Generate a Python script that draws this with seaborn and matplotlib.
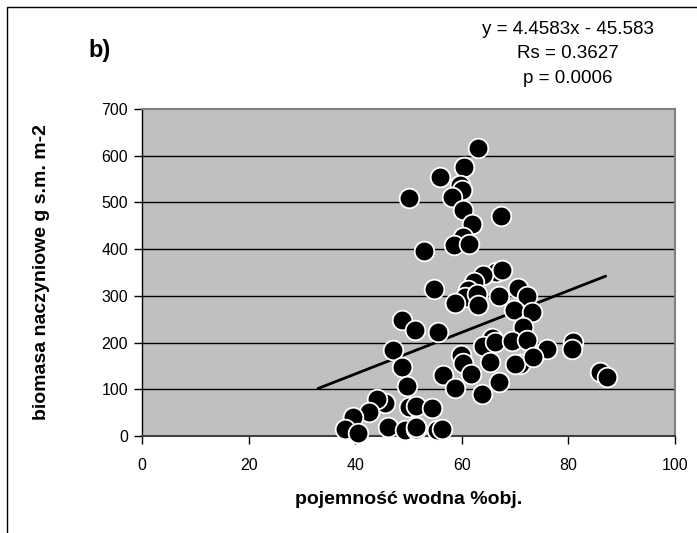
import matplotlib
matplotlib.use("Agg")
import matplotlib.pyplot as plt
import seaborn as sns
import numpy as np
import pandas as pd
from matplotlib.patches import Rectangle

# water capacity (% vol.) and vascular plant biomass (g d.m. m-2)
water_capacity = [
    63.1, 60.5, 55.9, 59.7, 60.0, 58.1, 50.0, 60.2, 67.4, 62.0,
    60.3, 58.5, 61.3, 52.9, 66.5, 67.5, 64.0, 62.2, 61.2, 54.7,
    60.6, 62.8, 63.1, 58.7, 67.0, 70.6, 72.2, 69.7, 73.1, 71.5,
    48.7, 51.2, 55.6, 65.6, 64.0, 66.2, 69.5, 72.2, 75.9, 80.9,
    80.6, 47.1, 59.8, 60.2, 61.8, 65.3, 70.9, 70.0, 73.4, 56.5,
    66.9, 58.7, 63.7, 48.7, 49.7, 85.9, 87.2, 45.6, 44.0, 50.0,
    51.5, 54.4, 46.2, 49.3, 51.5, 51.5, 55.3, 56.2, 42.5, 39.6,
    38.1, 40.6,
]
biomass = [
    616, 575, 554, 537, 527, 512, 509, 484, 471, 453,
    427, 409, 411, 395, 352, 355, 345, 330, 312, 314,
    298, 305, 280, 284, 300, 316, 300, 270, 266, 234,
    248, 227, 223, 209, 193, 202, 203, 206, 186, 202,
    186, 184, 173, 156, 133, 159, 154, 154, 170, 131,
    116, 103, 90, 148, 106, 138, 127, 70, 80, 63,
    64, 59, 20, 13, 16, 20, 13, 16, 52, 41,
    16, 6,
]

# linear trend reported on the chart
slope, intercept = 4.4583, -45.583
trend_x = [33, 87]

x_ticks = [0, 20, 40, 60, 80, 100]
y_ticks = [0, 100, 200, 300, 400, 500, 600, 700]

df = pd.DataFrame({"x": water_capacity, "y": biomass})
trend = pd.DataFrame({"x": trend_x, "y": [slope * v + intercept for v in trend_x]})

sns.set_style("white")
plt.rcParams["font.family"] = ["Liberation Sans", "DejaVu Sans"]
plt.rcParams["text.color"] = "black"
plt.rcParams["axes.labelcolor"] = "black"

fig = plt.figure(figsize=(6.97, 5.33), dpi=100)
ax = fig.add_axes([142 / 697, 1 - 436 / 533, (675 - 142) / 697, (436 - 109) / 533])
ax.set_facecolor("#C0C0C0")

for yv in y_ticks[1:-1]:
    ax.axhline(yv, color="black", lw=1.0, zorder=1)

sns.lineplot(data=trend, x="x", y="y", color="black", lw=2.0, ax=ax, zorder=2)
sns.scatterplot(data=df, x="x", y="y", s=200, color="black", edgecolor="white",
                linewidth=1.3, ax=ax, zorder=3, clip_on=False)

ax.set_xlim(0, 100)
ax.set_ylim(0, 700)
ax.set_xticks(x_ticks)
ax.set_yticks(y_ticks)
ax.tick_params(axis="both", direction="out", length=6, width=1, color="black",
               labelsize=11.5, labelcolor="black", bottom=True, left=True)
ax.tick_params(axis="y", pad=4)
ax.tick_params(axis="x", pad=10)

for side in ["top", "right"]:
    ax.spines[side].set_color("#808080")
    ax.spines[side].set_linewidth(1.5)
ax.spines["left"].set_color("black")
ax.spines["left"].set_linewidth(1.0)
ax.spines["bottom"].set_color("#404040")
ax.spines["bottom"].set_linewidth(1.5)

ax.set_xlabel("pojemność wodna %obj.", fontsize=14, fontweight="bold", labelpad=13)
ax.set_ylabel("biomasa naczyniowe g s.m. m-2", fontsize=14, fontweight="bold", labelpad=37)

fig.text(100 / 697, 1 - 50 / 533, "b)", fontsize=17, fontweight="bold",
         ha="center", va="center")
fig.text(568 / 697, 1 - 54 / 533,
         "y = 4.4583x - 45.583\nRs = 0.3627\np = 0.0006",
         fontsize=13.5, ha="center", va="center", linespacing=1.6)

# outer frame around the chart
fig.patches.append(Rectangle((7 / 697, -0.2), 1.2, 1.2 - 7 / 533,
                             transform=fig.transFigure, fill=False,
                             edgecolor="black", lw=1.0))

fig.savefig("out.png", dpi=100)
